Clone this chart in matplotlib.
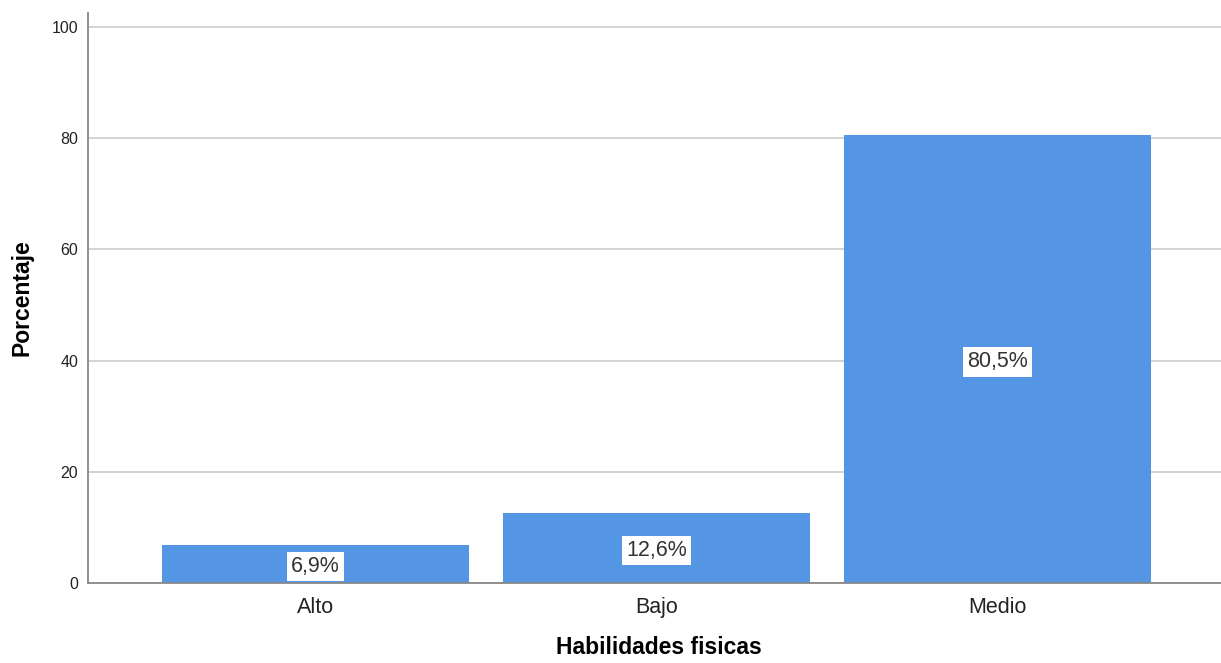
import matplotlib
matplotlib.use("Agg")
import matplotlib.pyplot as plt

# datos
categorias = ["Alto", "Bajo", "Medio"]
porcentajes = [6.9, 12.6, 80.5]
etiquetas = ["6,9%", "12,6%", "80,5%"]
yticks = [0, 20, 40, 60, 80, 100]

plt.rcParams['font.family'] = ['Liberation Sans', 'DejaVu Sans']

fig = plt.figure(figsize=(12.21, 6.63), dpi=100)
ax = fig.add_axes([0.0721, 0.1207, 0.935, 0.8597])

x = list(range(len(categorias)))
ax.bar(x, porcentajes, width=0.9, color="#5596E4", zorder=2)
for xi, v, t in zip(x, porcentajes, etiquetas):
    ax.text(xi, v / 2 - 0.5, t, ha="center", va="center", fontsize=15.5, color="#333333",
            bbox=dict(facecolor="white", edgecolor="none", pad=3), zorder=3)

ax.set_xlim(-0.667, 2.68)
ax.set_ylim(0, 102.5)
ax.set_yticks(yticks)
ax.set_yticklabels([str(t) for t in yticks], fontsize=11.5, color="#222222")
ax.set_xticks(x)
ax.set_xticklabels(categorias, fontsize=15.5, color="#222222")
ax.tick_params(axis="x", length=0, pad=10)
ax.tick_params(axis="y", length=0, pad=7)
ax.yaxis.grid(True, color="#cccccc", linewidth=1.2, zorder=0)
ax.set_axisbelow(True)

for s in ["top", "right"]:
    ax.spines[s].set_visible(False)
ax.spines["left"].set_color("#888888")
ax.spines["bottom"].set_color("#888888")
ax.spines["left"].set_linewidth(1.3)
ax.spines["bottom"].set_linewidth(1.3)

ax.set_ylabel("Porcentaje", fontsize=16.5, fontweight="bold", labelpad=13)
ax.set_xlabel("Habilidades fisicas", fontsize=16.5, fontweight="bold", labelpad=13)

fig.savefig("out.png", dpi=100)
